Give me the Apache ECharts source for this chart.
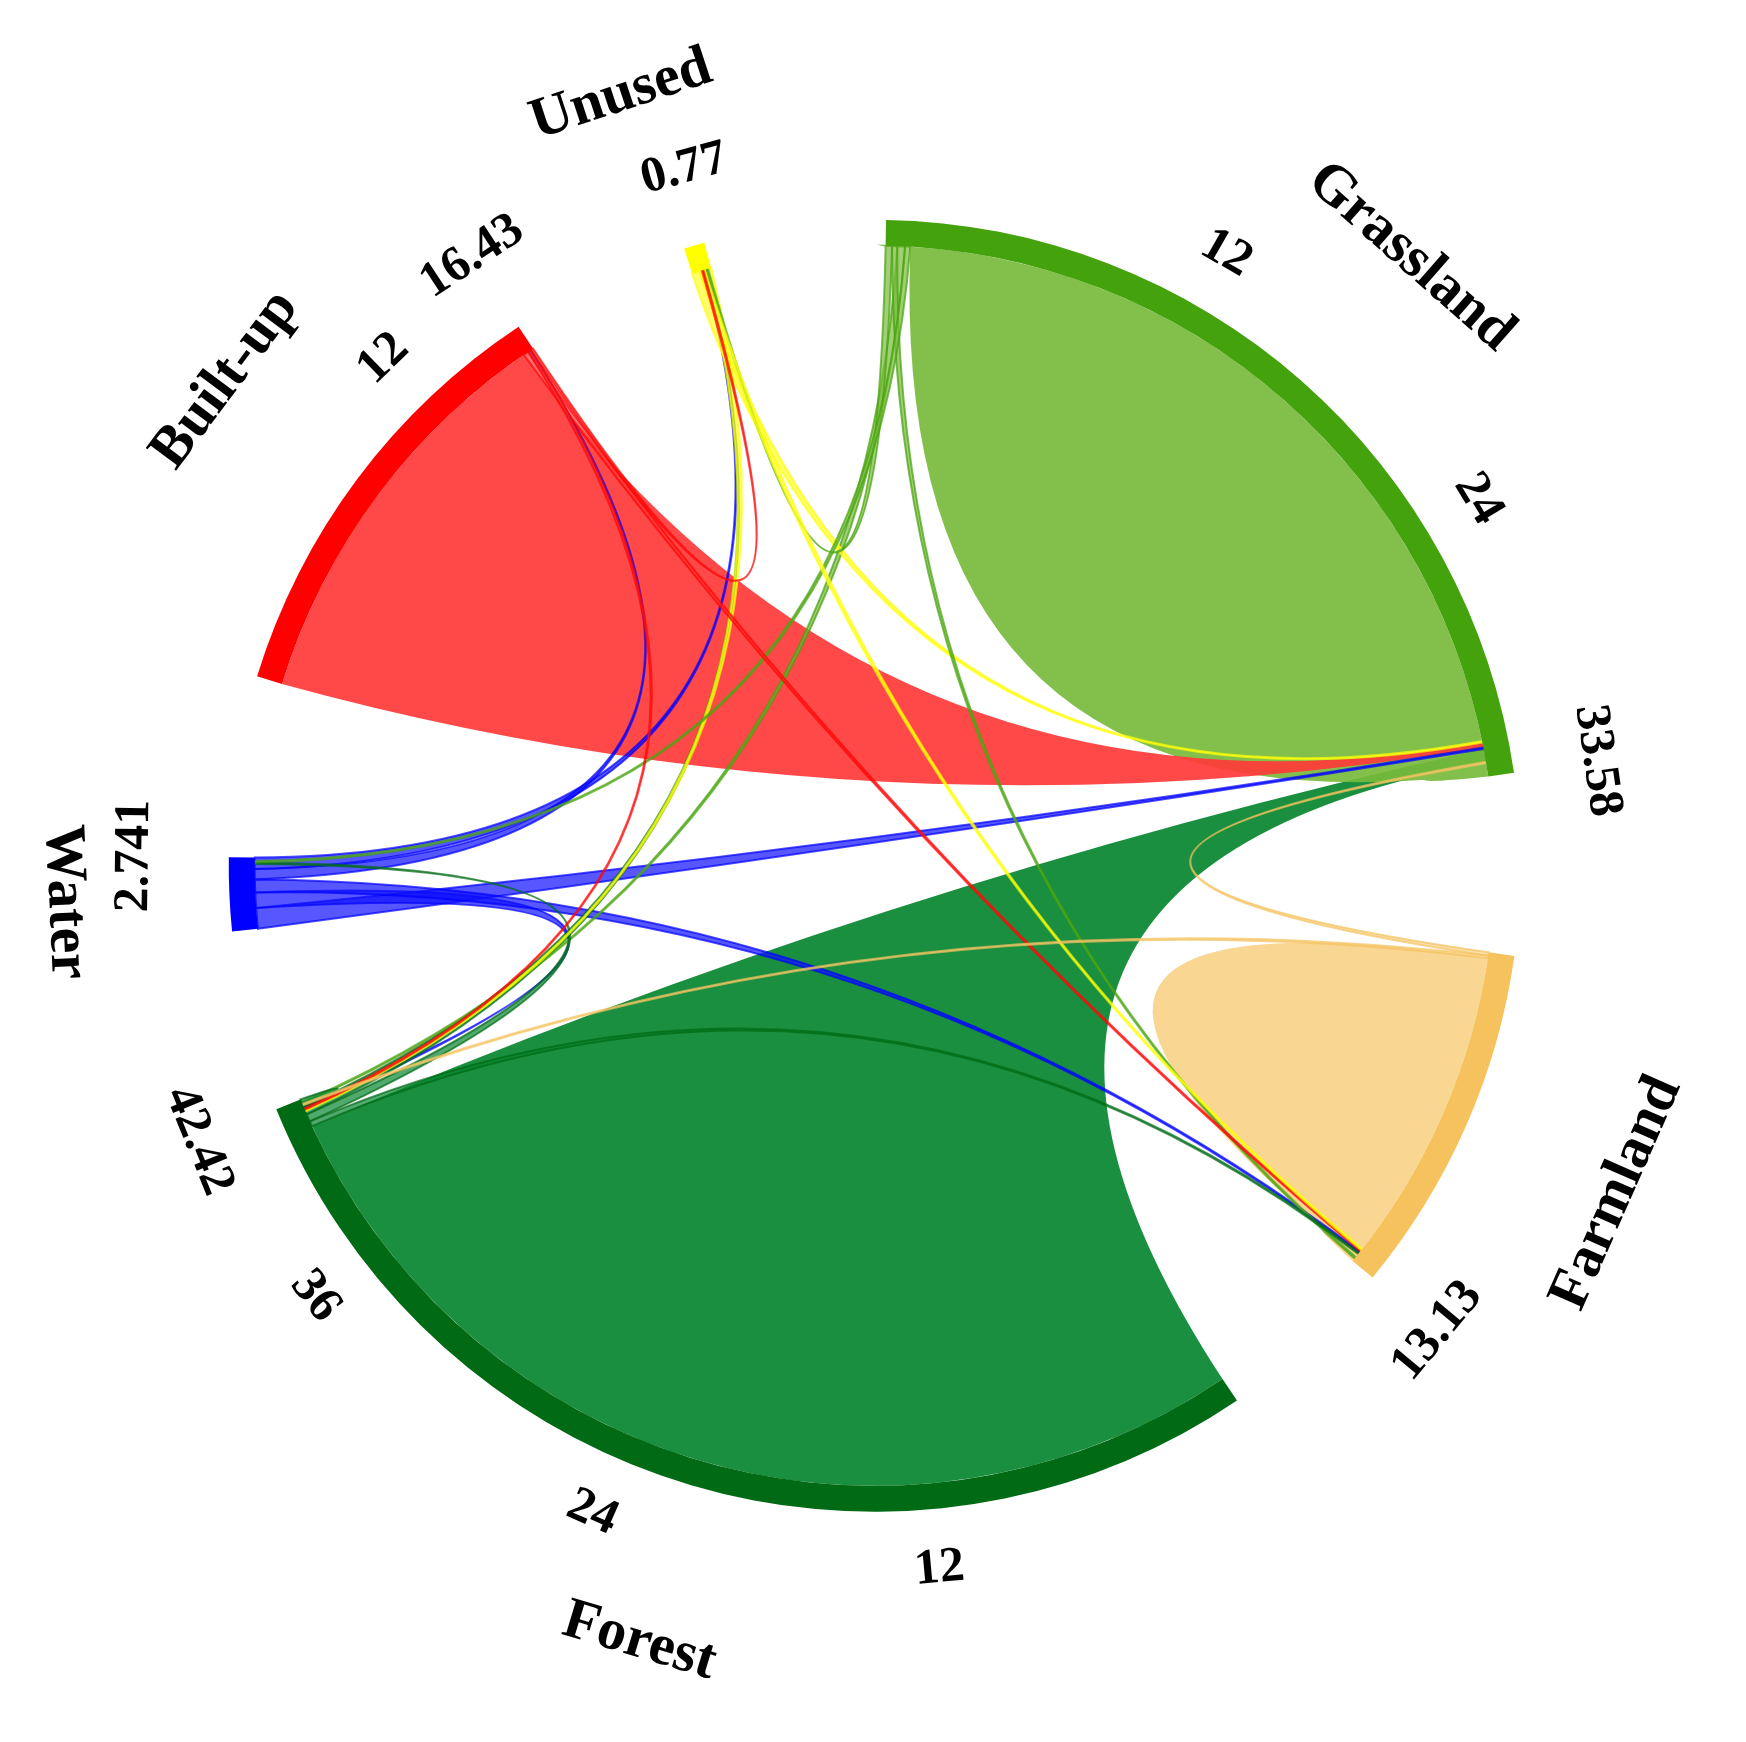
<!DOCTYPE html>
<html lang="en">
<head>
    <meta charset="UTF-8">
    <script src="https://cdn.jsdelivr.net/npm/echarts@6/dist/echarts.min.js"></script>
    <title>Land use transitions</title>
    <style>html,body{margin:0;background:#fff;}</style>
</head>
<body>
    <div id="chord" style="width:1746px;height:1742px;"></div>
</body>
<script type="text/javascript">
    // nodes, clockwise from the top
    var nodeNames = ["Grassland", "Farmland", "Forest", "Water", "Built-up", "Unused"];
    var nodeTotals = [33.58, 13.13, 42.42, 2.741, 16.43, 0.77];
    var totalLabels = ["33.58", "13.13", "42.42", "2.741", "16.43", "0.77"];
    var bandColors = ["#44a20c", "#f5c25e", "#006a14", "#0000ff", "#ff0000", "#ffff00"];
    var ribbonColors = ["#77bb3c", "#f8d48a", "#05852f", "#1010ff", "#ff3a3a", "#ffff33"];
    var tickValues = [12, 24, 36];

    // links: source, target, value
    var linkSource = ["Grassland","Grassland","Grassland","Grassland","Grassland",
                      "Farmland","Farmland","Farmland",
                      "Forest","Forest","Forest","Forest","Forest",
                      "Water","Water","Water","Water","Water",
                      "Built-up","Built-up","Built-up","Built-up",
                      "Unused","Unused","Unused"];
    var linkTarget = ["Unused","Farmland","Forest","Water","Grassland",
                      "Grassland","Forest","Farmland",
                      "Grassland","Farmland","Water","Unused","Forest",
                      "Grassland","Forest","Farmland","Built-up","Unused",
                      "Grassland","Farmland","Forest","Unused",
                      "Grassland","Farmland","Forest"];
    var linkValue = [0.25, 0.2, 0.3, 0.2, 32.63,
                     0.13, 0.1, 12.9,
                     41.3, 0.2, 0.3, 0.32, 0.3,
                     0.8, 0.6, 0.5, 0.4, 0.441,
                     16.0, 0.2, 0.13, 0.1,
                     0.3, 0.2, 0.27];

    var START = 1, PAD = 16.3;
    var RAD = Math.PI / 180;
    var unit = (360 - PAD * nodeNames.length) / nodeTotals.reduce(function (a, b) { return a + b; }, 0);
    var nodeStart = [], nodeEnd = [];
    var a = START;
    nodeTotals.forEach(function (v, i) {
        nodeStart[i] = a; nodeEnd[i] = a + v * unit; a = nodeEnd[i] + PAD;
    });

    // allocate source intervals and narrow target points
    var srcUsed = nodeNames.map(function () { return 0; });
    var tgtUsed = nodeNames.map(function () { return 0; });
    var links = linkValue.map(function (v, i) {
        var s = nodeNames.indexOf(linkSource[i]), t = nodeNames.indexOf(linkTarget[i]);
        var a1 = nodeStart[s] + srcUsed[s]; srcUsed[s] += v * unit;
        var a2 = nodeStart[s] + srcUsed[s];
        var tw = Math.max(0.15, v * unit * 0.012);
        var t2 = nodeEnd[t] - 0.3 - tgtUsed[t]; tgtUsed[t] += tw;
        var t1 = t2 - tw;
        return {s: s, a1: a1, a2: a2, t1: t1, t2: t2, v: v};
    });
    links.sort(function (x, y) { return y.v - x.v; });

    var chart = echarts.init(document.getElementById('chord'));

    function geo(api) {
        var w = api.getWidth(), h = api.getHeight();
        return {cx: w * 0.501, cy: h * 0.497, r: w * 0.37};
    }
    function pt(g, ang, r) {
        return [g.cx + r * Math.sin(ang * RAD), g.cy - r * Math.cos(ang * RAD)];
    }
    function P(p) { return p[0].toFixed(1) + ' ' + p[1].toFixed(1); }
    function ctrl(g, r, from, to) {
        var d = Math.abs(to - from) % 360; if (d > 180) d = 360 - d;
        var k = Math.max(0.03, 1 - d / 6);
        var mid = from + ((((to - from) % 360) + 540) % 360 - 180) / 2;
        return pt(g, mid, r * k);
    }
    function arcCmd(r, a1, a2, p2) {
        return ' A ' + r.toFixed(1) + ' ' + r.toFixed(1) + ' 0 ' + ((a2 - a1) > 180 ? 1 : 0) + ' 1 ' + P(p2);
    }
    function textRot(ang) {
        var n = ((ang % 360) + 360) % 360;
        var rot = -n;
        if (n > 90 && n < 270) rot += 180;
        return rot * RAD;
    }
    var font = 'bold 50px "Liberation Serif", "Times New Roman", serif';

    chart.setOption({
        animation: false,
        series: [{
            type: 'custom',
            coordinateSystem: 'none',
            data: links.map(function (l, i) { return i; }),
            renderItem: function (params, api) {
                var g = geo(api), l = links[params.dataIndex], rin = g.r - 26;
                var d = 'M ' + P(pt(g, l.a1, rin)) + arcCmd(rin, l.a1, l.a2, pt(g, l.a2, rin));
                d += ' Q ' + P(ctrl(g, rin, l.a2, l.t1)) + ' ' + P(pt(g, l.t1, rin));
                d += arcCmd(rin, l.t1, l.t2, pt(g, l.t2, rin));
                d += ' Q ' + P(ctrl(g, rin, l.t2, l.a1)) + ' ' + P(pt(g, l.a1, rin)) + ' Z';
                var thin = l.v < 2;
                return {
                    type: 'path',
                    shape: {pathData: d},
                    style: {
                        fill: ribbonColors[l.s],
                        stroke: thin ? bandColors[l.s] : null,
                        lineWidth: thin ? 2 : 0,
                        opacity: thin ? 0.7 : 0.92
                    }
                };
            }
        }, {
            type: 'custom',
            coordinateSystem: 'none',
            data: nodeNames.map(function (n, i) { return i; }),
            renderItem: function (params, api) {
                var g = geo(api), i = params.dataIndex;
                var s = nodeStart[i], e = nodeEnd[i], ro = g.r, ri = g.r - 26;
                var d = 'M ' + P(pt(g, s, ri)) + ' L ' + P(pt(g, s, ro)) + arcCmd(ro, s, e, pt(g, e, ro)) +
                    ' L ' + P(pt(g, e, ri)) + ' A ' + ri + ' ' + ri + ' 0 0 0 ' + P(pt(g, s, ri)) + ' Z';
                var children = [{type: 'path', shape: {pathData: d}, style: {fill: bandColors[i]}}];
                function label(txt, ang, r, f) {
                    var p = pt(g, ang, r);
                    children.push({
                        type: 'text', x: p[0], y: p[1], rotation: textRot(ang),
                        style: {text: txt, font: f, fill: '#000', align: 'center', verticalAlign: 'middle'}
                    });
                }
                label(nodeNames[i], (s + e) / 2 + (i === 5 ? -2 : 0), g.r + 165, 'bold 58px "Liberation Serif", serif');
                tickValues.forEach(function (t) {
                    if (nodeTotals[i] - t > 3) label(String(t), s + t * unit, g.r + 60, font);
                });
                label(totalLabels[i], e, g.r + (i === 3 ? 70 : 60) + (totalLabels[i].length - 2) * 8, font);
                return {type: 'group', children: children};
            }
        }]
    });
</script>
</html>
